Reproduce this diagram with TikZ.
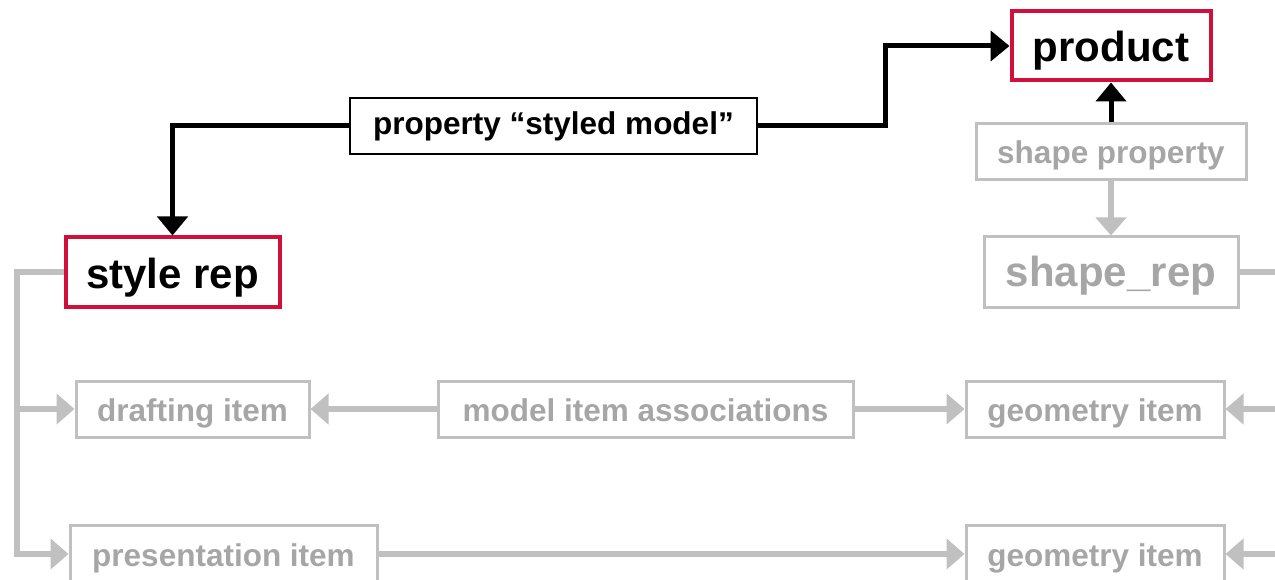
\documentclass[tikz,border=0pt]{standalone}
\usepackage{fontspec}
\setmainfont{Liberation Sans}
\usetikzlibrary{arrows.meta}
\definecolor{redb}{RGB}{208,16,58}
\definecolor{glinec}{RGB}{192,192,192}
\definecolor{gtextc}{RGB}{166,166,166}
\begin{document}
\begin{tikzpicture}[x=1pt,y=-1pt,
 redbox/.style={draw=redb,line width=4pt,inner sep=0pt,text height=32pt,text depth=0pt,font=\fontsize{42}{48}\selectfont\bfseries},
 greybox/.style={draw=glinec,line width=3pt,text=gtextc,inner sep=0pt,text height=24pt,text depth=0pt,font=\fontsize{31.5}{36}\selectfont\bfseries},
 bigrey/.style={greybox,text height=30pt,font=\fontsize{42}{48}\selectfont\bfseries},
 blackbox/.style={draw=black,line width=2.5pt,inner sep=0pt,font=\fontsize{31.5}{36}\selectfont\bfseries},
 bline/.style={line width=5pt,black,-{Triangle[length=19pt,width=30pt]}},
 gl/.style={line width=6pt,glinec},
 glarrow/.style={gl,-{Triangle[length=18pt,width=30pt]}}]
\useasboundingbox (0,0) rectangle (1275,580);
\clip (0,0) rectangle (1275,580);
% nodes
\node[redbox,minimum width=199pt,minimum height=69pt] (product) at (1111,46) {product};
\node[greybox,minimum width=270pt,minimum height=56pt] (shapeprop) at (1111,152) {shape property};
\node[bigrey,minimum width=254pt,minimum height=70pt] (shaperep) at (1111,272) {shape\_rep};
\node[redbox,minimum width=214pt,minimum height=69pt] (stylerep) at (172.5,272) {style rep};
\node[blackbox,minimum width=407pt,minimum height=56pt] (prop) at (553.5,126) {property “styled model”};
\node[greybox,minimum width=233pt,minimum height=56pt] (drafting) at (192.5,409) {drafting item};
\node[greybox,minimum width=415pt,minimum height=56pt] (mia) at (645.5,409) {model item associations};
\node[greybox,minimum width=258pt,minimum height=56pt] (geo1) at (1095,409) {geometry item};
\node[greybox,minimum width=307pt,minimum height=58pt] (pres) at (223.5,554) {presentation item};
\node[greybox,minimum width=258pt,minimum height=58pt] (geo2) at (1095,554) {geometry item};
% helper coordinates
\coordinate (k) at (885,0);
\coordinate (trunk) at (17,0);
\coordinate (re1) at (1285,272);
\coordinate (re2) at (1285,409);
\coordinate (re3) at (1285,554);
% black connectors
\draw[bline] (prop.west) -| (stylerep.north);
\draw[bline] (prop.east) -- (prop.east -| k) |- (product.west);
\draw[bline] (shapeprop.north) -- (product.south);
% grey connectors
\draw[glarrow] (shapeprop.south) -- (shaperep.north);
\draw[gl] (shaperep.east) -- (re1);
\draw[glarrow] (stylerep.west) -| (trunk |- pres.west) -- (pres.west);
\draw[glarrow] (trunk |- drafting.west) -- (drafting.west);
\draw[glarrow] (mia.west) -- (drafting.east);
\draw[glarrow] (mia.east) -- (geo1.west);
\draw[glarrow] (re2) -- (geo1.east);
\draw[glarrow] (re3) -- (geo2.east);
\draw[glarrow] (pres.east) -- (geo2.west);
\end{tikzpicture}
\end{document}
